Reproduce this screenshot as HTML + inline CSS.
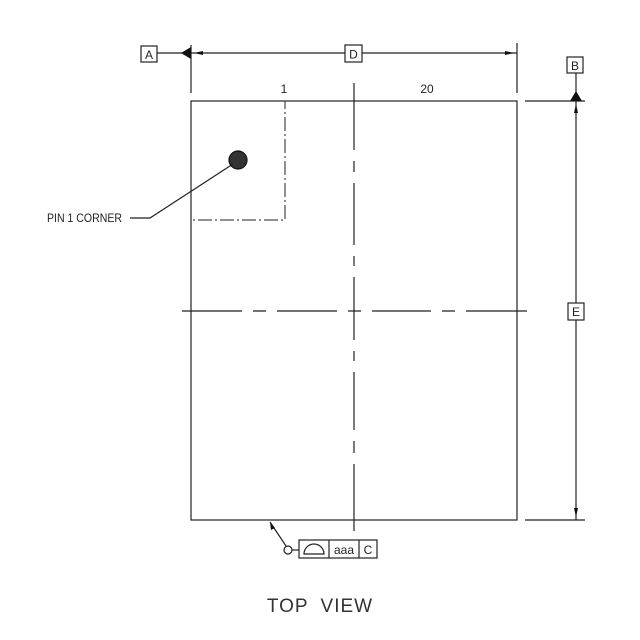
<!DOCTYPE html>
<html><head><meta charset="utf-8"><style>body{margin:0;background:#fff}svg{display:block}</style></head><body>
<svg width="640" height="640" viewBox="0 0 640 640" xmlns="http://www.w3.org/2000/svg" font-family="Liberation Sans, sans-serif" fill="none" stroke="#222" stroke-width="1.2">
<rect x="191" y="101" width="326" height="419"/>
<line x1="191" y1="45" x2="191" y2="93"/>
<line x1="517" y1="43" x2="517" y2="93"/>
<line x1="157" y1="53" x2="517" y2="53"/>
<polygon points="181,53 191,47 191,59" fill="#111" stroke="none"/>
<polygon points="194,53 203,51 203,55" fill="#111" stroke="none"/>
<polygon points="514,53 505,51 505,55" fill="#111" stroke="none"/>
<rect x="141" y="46" width="16" height="16" fill="#fff"/>
<text x="149" y="59" font-size="12" text-anchor="middle" fill="#222" stroke="none">A</text>
<rect x="345" y="45" width="17" height="17" fill="#fff"/>
<text x="353.5" y="58.5" font-size="12" text-anchor="middle" fill="#222" stroke="none">D</text>
<text x="284" y="93" font-size="12" text-anchor="middle" fill="#222" stroke="none">1</text>
<text x="427" y="93" font-size="12" text-anchor="middle" fill="#222" stroke="none">20</text>
<path d="M191 101 H285 V220 H191" stroke-dasharray="14 3 2 3" stroke-width="1"/>
<circle cx="238" cy="160" r="9" fill="#333" stroke="#111"/>
<path d="M233 164 L150 218 H130"/>
<text x="47" y="222" font-size="12" fill="#222" stroke="none" textLength="75" lengthAdjust="spacingAndGlyphs">PIN 1 CORNER</text>
<path d="M354 83V150M354 161V172M354 183V245M354 256V266M354 277V340M354 351V361M354 372V430M354 441V453M354 464V531"/>
<path d="M182 311H242M253 311H266M277 311H337M348 311H361M372 311H431M442 311H455M466 311H527"/>
<line x1="525" y1="101" x2="585" y2="101"/>
<line x1="525" y1="520" x2="585" y2="520"/>
<line x1="576" y1="73" x2="576" y2="520"/>
<polygon points="576,91 570,101 582,101" fill="#111" stroke="none"/>
<polygon points="576,104 574,113 578,113" fill="#111" stroke="none"/>
<polygon points="576,517 574,508 578,508" fill="#111" stroke="none"/>
<rect x="567" y="57" width="16" height="16" fill="#fff"/>
<text x="575" y="70" font-size="12" text-anchor="middle" fill="#222" stroke="none">B</text>
<rect x="568" y="303" width="16" height="17" fill="#fff"/>
<text x="576" y="316" font-size="12" text-anchor="middle" fill="#222" stroke="none">E</text>
<line x1="270" y1="522" x2="286" y2="546"/>
<polygon points="270,522 271,530 275,528" fill="#111" stroke="none"/>
<circle cx="288" cy="550" r="4"/>
<line x1="292" y1="550" x2="299" y2="550"/>
<rect x="299" y="540" width="78" height="18"/>
<line x1="329" y1="540" x2="329" y2="558"/>
<line x1="359" y1="540" x2="359" y2="558"/>
<path d="M304 554 A10 10 0 0 1 324 554 Z"/>
<text x="344" y="554" font-size="12" text-anchor="middle" fill="#222" stroke="none">aaa</text>
<text x="368" y="554" font-size="12" text-anchor="middle" fill="#222" stroke="none">C</text>
<text x="320" y="612" font-size="19" text-anchor="middle" fill="#333" stroke="none" letter-spacing="1" word-spacing="6">TOP VIEW</text>
</svg>
</body></html>
